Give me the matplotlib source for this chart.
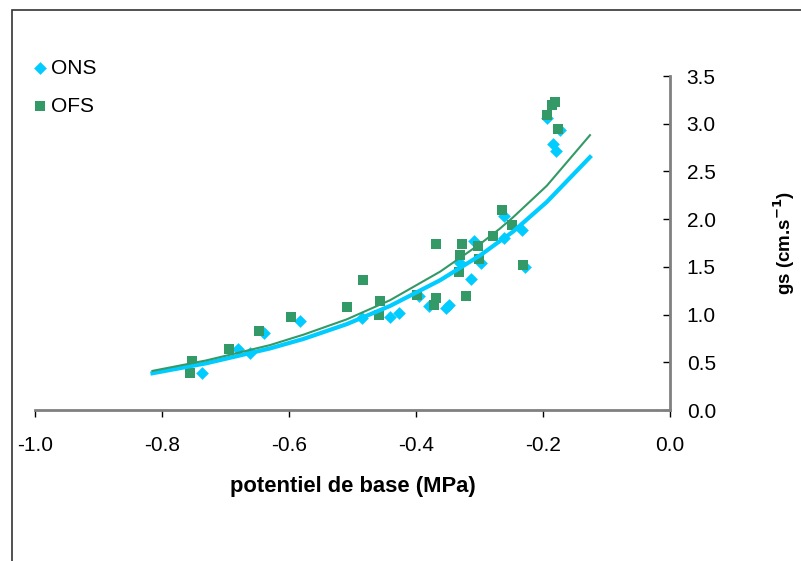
import matplotlib.pyplot as plt
from matplotlib.patches import Rectangle

plt.rcParams['font.family'] = ['Liberation Sans', 'DejaVu Sans']

# ONS measurements (diamonds)
ons_x = [-0.737, -0.681, -0.661, -0.639, -0.583, -0.485, -0.441, -0.427, -0.396,
         -0.379, -0.348, -0.352, -0.330, -0.313, -0.308, -0.297, -0.261, -0.261,
         -0.233, -0.229, -0.193, -0.173, -0.184, -0.180]
ons_y = [0.385, 0.64, 0.60, 0.81, 0.93, 0.96, 0.97, 1.02, 1.19,
         1.09, 1.10, 1.07, 1.54, 1.37, 1.77, 1.54, 1.80, 2.03,
         1.89, 1.50, 3.06, 2.93, 2.79, 2.71]

# OFS measurements (squares)
ofs_x = [-0.753, -0.756, -0.694, -0.647, -0.597, -0.509, -0.483, -0.457, -0.459,
         -0.398, -0.369, -0.369, -0.372, -0.332, -0.331, -0.327, -0.322, -0.302,
         -0.301, -0.278, -0.265, -0.249, -0.231, -0.181, -0.186, -0.194, -0.176]
ofs_y = [0.51, 0.39, 0.64, 0.83, 0.97, 1.08, 1.36, 1.14, 1.00,
         1.21, 1.74, 1.17, 1.10, 1.45, 1.62, 1.74, 1.19, 1.72,
         1.58, 1.82, 2.10, 1.94, 1.52, 3.23, 3.20, 3.09, 2.94]

# trend curves
fit_x = [-0.815, -0.73, -0.63, -0.577, -0.509, -0.441, -0.362, -0.299, -0.268, -0.247, -0.194, -0.126]
fit_ofs = [0.41, 0.52, 0.68, 0.79, 0.95, 1.15, 1.45, 1.74, 1.90, 2.02, 2.35, 2.88]
fit_ons = [0.385, 0.49, 0.645, 0.745, 0.90, 1.09, 1.36, 1.62, 1.77, 1.87, 2.18, 2.65]

cyan = '#00CCFF'
green = '#339966'

fig = plt.figure(figsize=(8.01, 5.61), dpi=100)
ax = fig.add_axes([35 / 801, 151 / 561, 635 / 801, 334 / 561])

ax.scatter(ons_x, ons_y, marker='D', s=42, color=cyan, label='ONS', zorder=2, linewidths=0)
ax.scatter(ofs_x, ofs_y, marker='s', s=52, color=green, label='OFS', zorder=3, linewidths=0)
ax.plot(fit_x, fit_ons, color=cyan, lw=3, zorder=4)
ax.plot(fit_x, fit_ofs, color=green, lw=1.5, zorder=4)

ax.set_xlim(-1.0, 0.0)
ax.set_ylim(0, 3.5)
ax.set_xticks([-1.0, -0.8, -0.6, -0.4, -0.2, 0.0])
ax.set_xticklabels(['-1.0', '-0.8', '-0.6', '-0.4', '-0.2', '0.0'])
ax.set_yticks([0, 0.5, 1.0, 1.5, 2.0, 2.5, 3.0, 3.5])
ax.set_yticklabels(['0.0', '0.5', '1.0', '1.5', '2.0', '2.5', '3.0', '3.5'])

for s in ['left', 'top']:
    ax.spines[s].set_visible(False)
for s in ['bottom', 'right']:
    ax.spines[s].set_color('#808080')
    ax.spines[s].set_linewidth(2)

ax.yaxis.tick_right()
ax.yaxis.set_label_position('right')
ax.tick_params(axis='y', direction='in', length=5, width=1, labelsize=15, pad=12, colors='black')
ax.tick_params(axis='x', direction='out', length=5, width=1, labelsize=15, pad=14, colors='black')

ax.set_xlabel('potentiel de base (MPa)', fontsize=15.8, fontweight='bold', labelpad=15)
ax.set_ylabel('gs (cm.s$^{\\mathbf{-1}}$)', fontsize=13.5, fontweight='bold', labelpad=40)

ax.legend(loc='upper left', bbox_to_anchor=(-0.014, 1.076), frameon=False, fontsize=15,
          handlelength=0.5, handletextpad=0.3, labelspacing=0.9, borderaxespad=0)

# outer chart border (only top/left visible in the crop)
fig.patches.append(Rectangle((12 / 801, -1), 2, 1 + (551 / 561), transform=fig.transFigure,
                             fill=False, edgecolor='#333333', lw=1.2))

fig.savefig('out.png', dpi=100)
